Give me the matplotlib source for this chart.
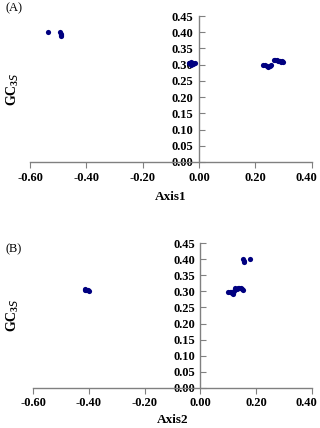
import matplotlib
matplotlib.use("Agg")
import matplotlib.pyplot as plt
from matplotlib.ticker import FormatStrFormatter
from matplotlib.transforms import ScaledTranslation

plt.rcParams['font.family'] = 'Liberation Serif'
plt.rcParams['axes.unicode_minus'] = False
plt.rcParams['mathtext.fontset'] = 'custom'
plt.rcParams['mathtext.rm'] = 'Liberation Serif:bold'
plt.rcParams['mathtext.bf'] = 'Liberation Serif:bold'

# panel A: Axis1 vs GC3s
axis1 = [-0.538, -0.492, -0.490, -0.489, -0.491,
         -0.035, -0.030, -0.025, -0.020, -0.015, -0.030, -0.022,
         0.228, 0.234, 0.240, 0.246, 0.251, 0.256,
         0.265, 0.270, 0.276, 0.281, 0.286, 0.291, 0.295, 0.298]
gc3s_a = [0.401, 0.400, 0.396, 0.392, 0.389,
          0.305, 0.307, 0.303, 0.305, 0.304, 0.300, 0.301,
          0.300, 0.298, 0.295, 0.293, 0.295, 0.299,
          0.315, 0.316, 0.313, 0.311, 0.312, 0.309, 0.310, 0.308]

# panel B: Axis2 vs GC3s
axis2 = [-0.415, -0.410, -0.405, -0.400, -0.413,
         0.100, 0.105, 0.110, 0.115, 0.118, 0.120, 0.125, 0.130,
         0.135, 0.140, 0.145, 0.150, 0.155,
         0.155, 0.157, 0.158, 0.178]
gc3s_b = [0.308, 0.306, 0.304, 0.300, 0.303,
          0.298, 0.297, 0.299, 0.295, 0.293, 0.300, 0.310, 0.308,
          0.311, 0.312, 0.310, 0.307, 0.306,
          0.400, 0.395, 0.391, 0.400]

xticks = [-0.6, -0.4, -0.2, 0.0, 0.2, 0.4]
yticks = [0.0, 0.05, 0.10, 0.15, 0.20, 0.25, 0.30, 0.35, 0.40, 0.45]

fig = plt.figure(figsize=(3.2, 4.28), dpi=100)


def panel(rect, x, y, xlabel, tag, label_y, tag_y):
    ax = fig.add_axes(rect)
    ax.scatter(x, y, s=14, color='#000080', zorder=3, linewidths=0)
    ax.set_xlim(-0.6, 0.4)
    ax.set_ylim(0, 0.45)
    for s in ['top', 'right']:
        ax.spines[s].set_visible(False)
    ax.spines['left'].set_position(('data', 0))
    ax.spines['bottom'].set_position(('data', 0))
    for s in ['left', 'bottom']:
        ax.spines[s].set_color('#808080')
        ax.spines[s].set_linewidth(1.0)
    ax.set_xticks(xticks)
    ax.set_yticks(yticks)
    ax.xaxis.set_major_formatter(FormatStrFormatter('%.2f'))
    ax.yaxis.set_major_formatter(FormatStrFormatter('%.2f'))
    ax.tick_params(axis='x', direction='out', length=4, color='#808080',
                   labelsize=9, pad=3)
    ax.tick_params(axis='y', direction='in', length=4, color='#808080',
                   labelsize=9, pad=4)
    for lab in ax.get_xticklabels() + ax.get_yticklabels():
        lab.set_fontweight('bold')
    # keep the last x label inside the figure
    last = ax.get_xticklabels()[-1]
    last.set_transform(last.get_transform() +
                       ScaledTranslation(-5 / 100, 0, fig.dpi_scale_trans))
    cx = rect[0] + rect[2] / 2
    cy = rect[1] + rect[3] / 2
    fig.text(cx, label_y, xlabel, ha='center', va='center',
             fontsize=9.5, fontweight='bold')
    fig.text(0.04, cy, r'GC$_{3S}$', ha='center', va='center',
             fontsize=10, fontweight='bold', rotation=90)
    fig.text(0.016, tag_y, tag, ha='left', va='center', fontsize=9)
    return ax


panel([0.094, 0.6215, 0.880, 0.341], axis1, gc3s_a, 'Axis1', '(A)', 0.54, 0.981)
panel([0.104, 0.0942, 0.870, 0.3373], axis2, gc3s_b, 'Axis2', '(B)', 0.019, 0.418)

fig.savefig('out.png', dpi=100)
